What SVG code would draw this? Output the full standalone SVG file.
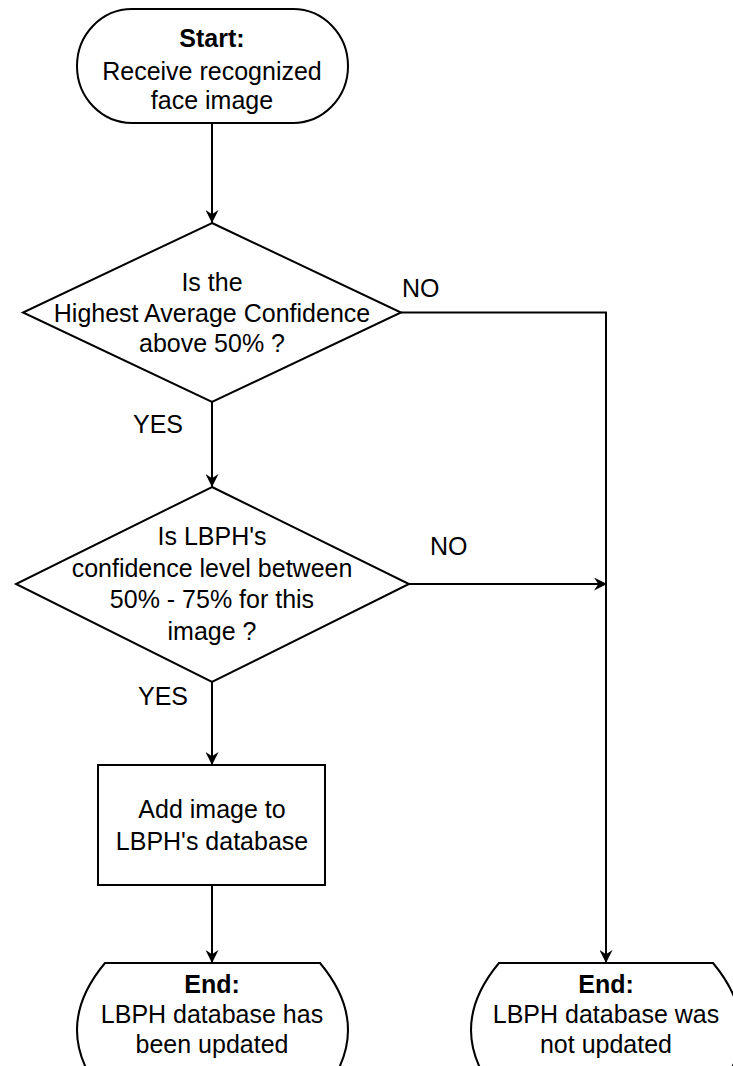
<svg xmlns="http://www.w3.org/2000/svg" width="733" height="1066" viewBox="0 0 733 1066">
<style>
.shape{fill:#fff;stroke:#000;stroke-width:2}
.t{font-family:"Liberation Sans",Arial,sans-serif;font-size:25px;fill:#000;text-anchor:middle}
.b{font-weight:bold}
.lbl{font-family:"Liberation Sans",Arial,sans-serif;font-size:25px;fill:#000}
.c{fill:none;stroke:#000;stroke-width:2}
</style>
<defs>
<marker id="arr" viewBox="0 0 12 12" refX="12" refY="6" markerWidth="13" markerHeight="13" markerUnits="userSpaceOnUse" orient="auto">
<path d="M0,0 L12,6 L0,12 L4,6 Z" fill="#000"/>
</marker>
</defs>
<rect width="733" height="1066" fill="#fff"/>
<g id="connectors">
<line class="c" x1="212" y1="123" x2="212" y2="223" marker-end="url(#arr)"/>
<line class="c" x1="212" y1="402" x2="212" y2="487" marker-end="url(#arr)"/>
<line class="c" x1="212" y1="682" x2="212" y2="765" marker-end="url(#arr)"/>
<line class="c" x1="212" y1="885" x2="212" y2="963" marker-end="url(#arr)"/>
<polyline class="c" points="401,312.5 606,312.5 606,963" marker-end="url(#arr)"/>
<line class="c" x1="409" y1="584" x2="607" y2="584" marker-end="url(#arr)"/>
<text class="lbl" x="402" y="297">NO</text>
<text class="lbl" x="133" y="433">YES</text>
<text class="lbl" x="430" y="555">NO</text>
<text class="lbl" x="138" y="705">YES</text>
</g>
<g id="start">
<rect class="shape" x="77" y="9" width="271" height="114" rx="55" ry="57"/>
<text class="t b" x="212" y="47">Start:</text>
<text class="t" x="212" y="80">Receive recognized</text>
<text class="t" x="212" y="109">face image</text>
</g>
<g id="decision1">
<polygon class="shape" points="212,223 401,312.5 212,402 23,312.5"/>
<text class="t" x="212" y="291">Is the</text>
<text class="t" x="212" y="322">Highest Average Confidence</text>
<text class="t" x="212" y="352">above 50% ?</text>
</g>
<g id="decision2">
<polygon class="shape" points="212,487 409,584 212,682 16,584"/>
<text class="t" x="212" y="545">Is LBPH's</text>
<text class="t" x="212" y="577">confidence level between</text>
<text class="t" x="212" y="608">50% - 75% for this</text>
<text class="t" x="212" y="640">image ?</text>
</g>
<g id="process">
<rect class="shape" x="98" y="765" width="227" height="120"/>
<text class="t" x="212" y="818">Add image to</text>
<text class="t" x="212" y="850">LBPH's database</text>
</g>
<g id="end-updated">
<path class="shape" d="M105,963 L320,963 Q376,1030 320,1097 L105,1097 Q49,1030 105,963 Z"/>
<text class="t b" x="212" y="993">End:</text>
<text class="t" x="212" y="1023">LBPH database has</text>
<text class="t" x="212" y="1053">been updated</text>
</g>
<g id="end-not-updated">
<path class="shape" d="M499,963 L713,963 Q769,1030 713,1097 L499,1097 Q443,1030 499,963 Z"/>
<text class="t b" x="606" y="993">End:</text>
<text class="t" x="606" y="1023">LBPH database was</text>
<text class="t" x="606" y="1053">not updated</text>
</g>
</svg>
